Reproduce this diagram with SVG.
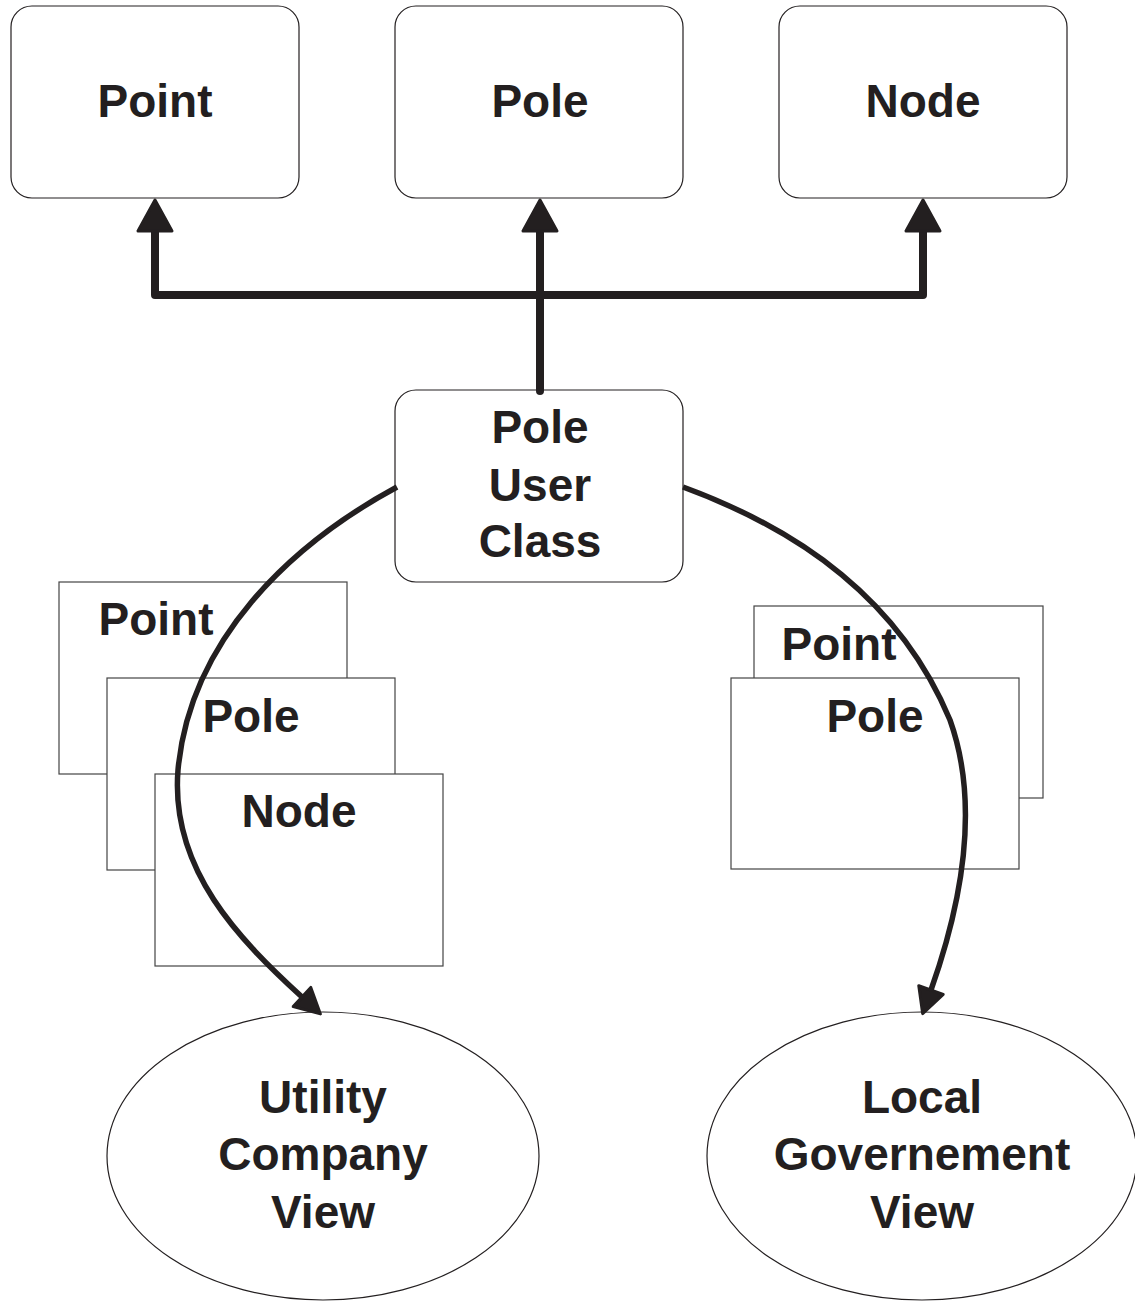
<svg xmlns="http://www.w3.org/2000/svg" width="1135" height="1301" viewBox="0 0 1135 1301">
<style>
  .box { fill: #ffffff; stroke: #231f20; stroke-width: 1.2; }
  .card { fill: #ffffff; stroke: #444444; stroke-width: 1.2; }
  .lbl { font-family: "Liberation Sans", Arial, sans-serif; font-weight: bold; font-size: 46px; fill: #231f20; text-anchor: middle; }
  .thick { fill: none; stroke: #231f20; stroke-width: 8; stroke-linecap: round; stroke-linejoin: round; }
  .curve { fill: none; stroke: #231f20; stroke-width: 5.5; stroke-linecap: butt; }
</style>
<defs>
  <marker id="bigArrow" markerUnits="userSpaceOnUse" orient="auto-start-reverse" refX="0" refY="0" markerWidth="40" markerHeight="40" overflow="visible">
    <path d="M0,-17 L31,0 L0,17 Z" fill="#231f20" stroke="#231f20" stroke-width="3" stroke-linejoin="round"/>
  </marker>
  <marker id="smallArrow" markerUnits="userSpaceOnUse" orient="auto" refX="0" refY="0" markerWidth="40" markerHeight="40" overflow="visible">
    <path d="M0,-13 L25,0 L0,13 Z" fill="#231f20" stroke="#231f20" stroke-width="3" stroke-linejoin="round"/>
  </marker>
</defs>
<rect width="1135" height="1301" fill="#ffffff"/>

<g id="node-point">
  <rect class="box" x="11" y="6" width="288" height="192" rx="21" ry="21"/>
  <text class="lbl" x="155" y="117">Point</text>
</g>
<g id="node-pole">
  <rect class="box" x="395" y="6" width="288" height="192" rx="21" ry="21"/>
  <text class="lbl" x="540" y="117">Pole</text>
</g>
<g id="node-node">
  <rect class="box" x="779" y="6" width="288" height="192" rx="21" ry="21"/>
  <text class="lbl" x="923" y="117">Node</text>
</g>
<g id="node-pole-user-class">
  <rect class="box" x="395" y="390" width="288" height="192" rx="21" ry="21"/>
  <text class="lbl" x="540" y="443">Pole</text>
  <text class="lbl" x="540" y="501">User</text>
  <text class="lbl" x="540" y="557">Class</text>
</g>

<g id="stack-left">
  <g id="card-left-point">
    <rect class="card" x="59" y="582" width="288" height="192"/>
    <text class="lbl" x="156" y="635">Point</text>
  </g>
  <g id="card-left-pole">
    <rect class="card" x="107" y="678" width="288" height="192"/>
    <text class="lbl" x="251" y="732">Pole</text>
  </g>
  <g id="card-left-node">
    <rect class="card" x="155" y="774" width="288" height="192"/>
    <text class="lbl" x="299" y="827">Node</text>
  </g>
</g>

<g id="stack-right">
  <g id="card-right-point">
    <rect class="card" x="754" y="606" width="289" height="192"/>
    <text class="lbl" x="839" y="660">Point</text>
  </g>
  <g id="card-right-pole">
    <rect class="card" x="731" y="678" width="288" height="191"/>
    <text class="lbl" x="875" y="732">Pole</text>
  </g>
</g>

<g id="node-utility-view">
  <ellipse class="box" cx="323" cy="1156" rx="216" ry="144"/>
  <text class="lbl" x="323" y="1113">Utility</text>
  <text class="lbl" x="323" y="1170">Company</text>
  <text class="lbl" x="323" y="1228">View</text>
</g>
<g id="node-local-view">
  <ellipse class="box" cx="922" cy="1156" rx="215" ry="144"/>
  <text class="lbl" x="922" y="1113">Local</text>
  <text class="lbl" x="922" y="1170">Governement</text>
  <text class="lbl" x="922" y="1228">View</text>
</g>

<g id="connectors">
  <path class="thick" d="M155,231 V295 H923 V231" marker-start="url(#bigArrow)" marker-end="url(#bigArrow)"/>
  <path class="thick" d="M540,391 V231" marker-end="url(#bigArrow)"/>
  <path class="curve" d="M397,487 C290,545 190,640 178,770 C170,870 240,940 302,997" marker-end="url(#smallArrow)"/>
  <path class="curve" d="M683,487 C800,530 900,600 950,720 C975,790 970,880 931,990" marker-end="url(#smallArrow)"/>
</g>
</svg>
